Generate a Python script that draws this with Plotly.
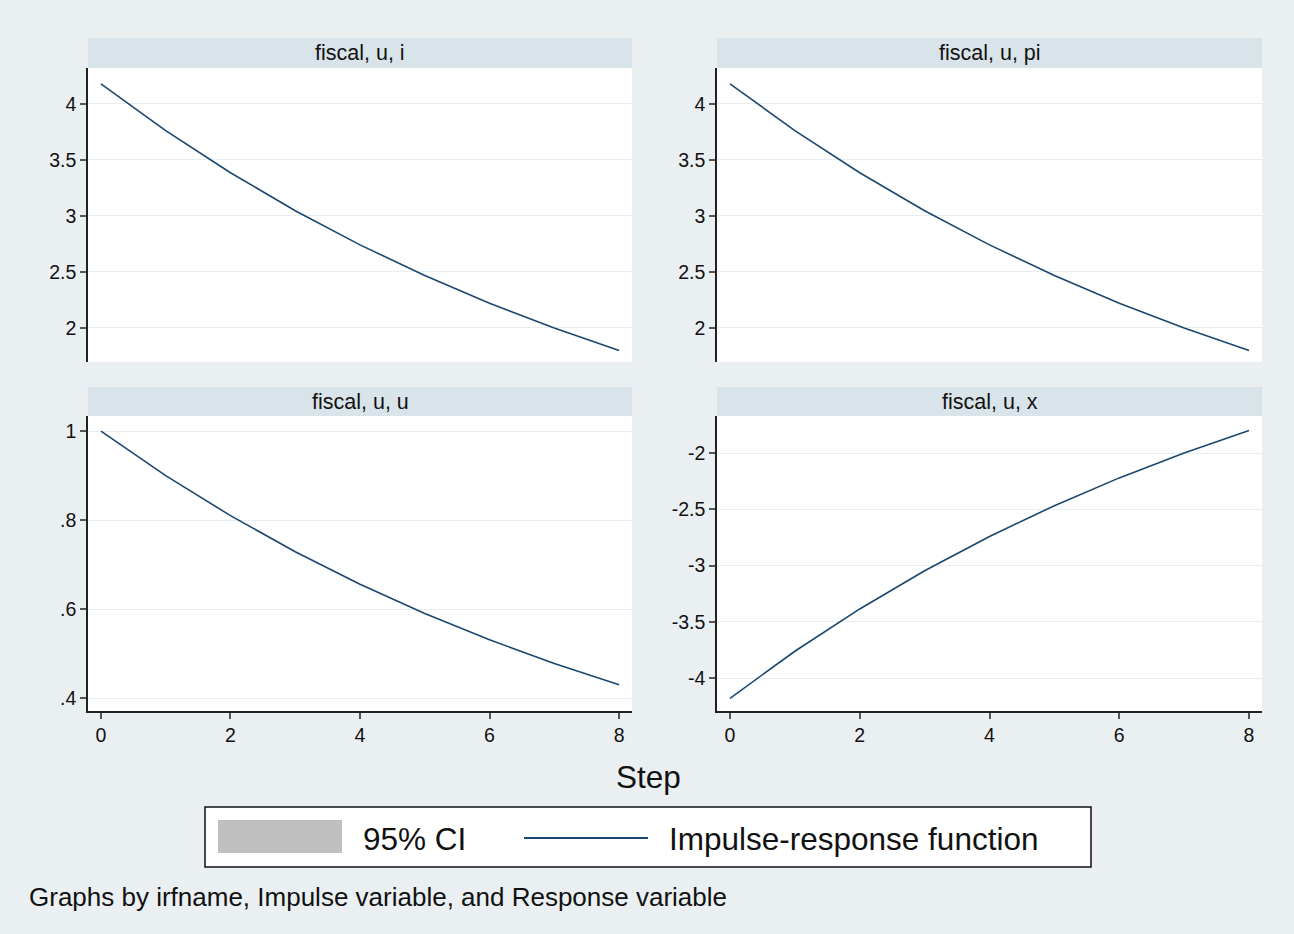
import plotly.graph_objects as go

# ---------------- data ----------------
steps = [0, 1, 2, 3, 4, 5, 6, 7, 8]
irf_u_i = [4.18, 3.762, 3.386, 3.047, 2.742, 2.468, 2.221, 1.999, 1.799]
irf_u_pi = [4.18, 3.762, 3.386, 3.047, 2.742, 2.468, 2.221, 1.999, 1.799]
irf_u_u = [1.0, 0.9, 0.81, 0.729, 0.656, 0.590, 0.531, 0.478, 0.430]
irf_u_x = [-4.18, -3.762, -3.386, -3.047, -2.742, -2.468, -2.221, -1.999, -1.799]
panel_titles = ["fiscal, u, i", "fiscal, u, pi", "fiscal, u, u", "fiscal, u, x"]

step_ticks = [0, 2, 4, 6, 8]
pos_ticks = [2, 2.5, 3, 3.5, 4]
pos_labels = ["2", "2.5", "3", "3.5", "4"]
u_ticks = [0.4, 0.6, 0.8, 1.0]
u_labels = [".4", ".6", ".8", "1"]
neg_ticks = [-4, -3.5, -3, -2.5, -2]
neg_labels = ["-4", "-3.5", "-3", "-2.5", "-2"]

legend_labels = ["95% CI", "Impulse-response function"]
x_title = "Step"
note_text = "Graphs by irfname, Impulse variable, and Response variable"

# ---------------- styling ----------------
W, H = 1294, 934
BG = "#eaf0f2"
STRIP = "#d9e4ea"
GRID = "#e6eef1"
LINE = "#1a476f"
FONT = "Liberation Sans, Arial, Helvetica, sans-serif"
TICKFONT = dict(family=FONT, size=19.5, color="#111")


def px_x(x):
    return x / W


def px_y(y):
    return 1 - y / H


panels = [
    # (xpix0, xpix1, ypix_top, ypix_bottom, yvals, yticks, ylabels, yrange, show_x)
    (88, 632, 68, 362, irf_u_i, pos_ticks, pos_labels, [1.696, 4.321], False),
    (717, 1262, 68, 362, irf_u_pi, pos_ticks, pos_labels, [1.696, 4.321], False),
    (88, 632, 416, 711, irf_u_u, u_ticks, u_labels, [0.371, 1.034], True),
    (717, 1262, 416, 711, irf_u_x, neg_ticks, neg_labels, [-4.293, -1.671], True),
]
strip_tops = [38, 38, 387, 387]

fig = go.Figure()
layout = dict(
    width=W, height=H,
    margin=dict(l=0, r=0, t=0, b=0),
    paper_bgcolor=BG,
    plot_bgcolor="white",
    showlegend=False,
    font=dict(family=FONT, color="#111"),
)
shapes = []
annotations = []

for k, (x0, x1, yt, yb, vals, yt_vals, yt_labels, yr, show_x) in enumerate(panels):
    sfx = "" if k == 0 else str(k + 1)
    fig.add_trace(go.Scatter(
        x=steps, y=vals, mode="lines",
        line=dict(color=LINE, width=1.6),
        xaxis="x" + sfx, yaxis="y" + sfx,
        hoverinfo="x+y",
    ))
    layout["xaxis" + sfx] = dict(
        domain=[px_x(x0), px_x(x1)],
        anchor="y" + sfx,
        range=[-0.2, 8.2],
        tickvals=step_ticks,
        ticktext=[str(t) for t in step_ticks],
        showticklabels=show_x,
        ticks="outside" if show_x else "",
        ticklen=6, tickcolor="#555", tickwidth=1.5,
        showline=show_x, linecolor="#222", linewidth=1.5,
        showgrid=False, zeroline=False,
        tickfont=TICKFONT,
    )
    layout["yaxis" + sfx] = dict(
        domain=[px_y(yb), px_y(yt)],
        anchor="x" + sfx,
        range=yr,
        tickvals=yt_vals,
        ticktext=yt_labels,
        ticks="outside", ticklen=6, tickcolor="#555", tickwidth=1.5,
        showline=True, linecolor="#222", linewidth=1.5,
        showgrid=True, gridcolor=GRID, gridwidth=1.2,
        zeroline=False,
        tickfont=TICKFONT,
    )
    st = strip_tops[k]
    shapes.append(dict(
        type="rect", xref="paper", yref="paper",
        x0=px_x(x0), x1=px_x(x1), y0=px_y(yt), y1=px_y(st),
        fillcolor=STRIP, line=dict(width=0), layer="below",
    ))
    annotations.append(dict(
        text=panel_titles[k], xref="paper", yref="paper",
        x=px_x((x0 + x1) / 2), y=px_y((st + yt) / 2),
        xanchor="center", yanchor="middle", showarrow=False,
        font=dict(family=FONT, size=21.5, color="#111"),
    ))

# x-axis title
annotations.append(dict(
    text=x_title, xref="paper", yref="paper",
    x=px_x(648), y=px_y(777), xanchor="center", yanchor="middle",
    showarrow=False, font=dict(family=FONT, size=31.5, color="#111"),
))

# legend box
shapes.append(dict(
    type="rect", xref="paper", yref="paper",
    x0=px_x(205), x1=px_x(1091), y0=px_y(867), y1=px_y(807),
    fillcolor="white", line=dict(color="#111", width=1.5),
))
shapes.append(dict(
    type="rect", xref="paper", yref="paper",
    x0=px_x(218), x1=px_x(342), y0=px_y(853), y1=px_y(820),
    fillcolor="#bfbfbf", line=dict(width=0),
))
shapes.append(dict(
    type="line", xref="paper", yref="paper",
    x0=px_x(524), x1=px_x(648), y0=px_y(838), y1=px_y(838),
    line=dict(color=LINE, width=2),
))
annotations.append(dict(
    text=legend_labels[0], xref="paper", yref="paper",
    x=px_x(361), y=px_y(839), xanchor="left", yanchor="middle",
    showarrow=False, font=dict(family=FONT, size=31.5, color="#111"),
))
annotations.append(dict(
    text=legend_labels[1], xref="paper", yref="paper",
    x=px_x(667), y=px_y(839), xanchor="left", yanchor="middle",
    showarrow=False, font=dict(family=FONT, size=31.5, color="#111"),
))

# note
annotations.append(dict(
    text=note_text, xref="paper", yref="paper",
    x=px_x(27), y=px_y(897), xanchor="left", yanchor="middle",
    showarrow=False, font=dict(family=FONT, size=26, color="#111"),
))

layout["shapes"] = shapes
layout["annotations"] = annotations
fig.update_layout(**layout)

fig.write_html(
    "out.html",
    config={"displayModeBar": False},
    post_script="document.body.style.margin='0';document.body.style.overflow='hidden';",
)
